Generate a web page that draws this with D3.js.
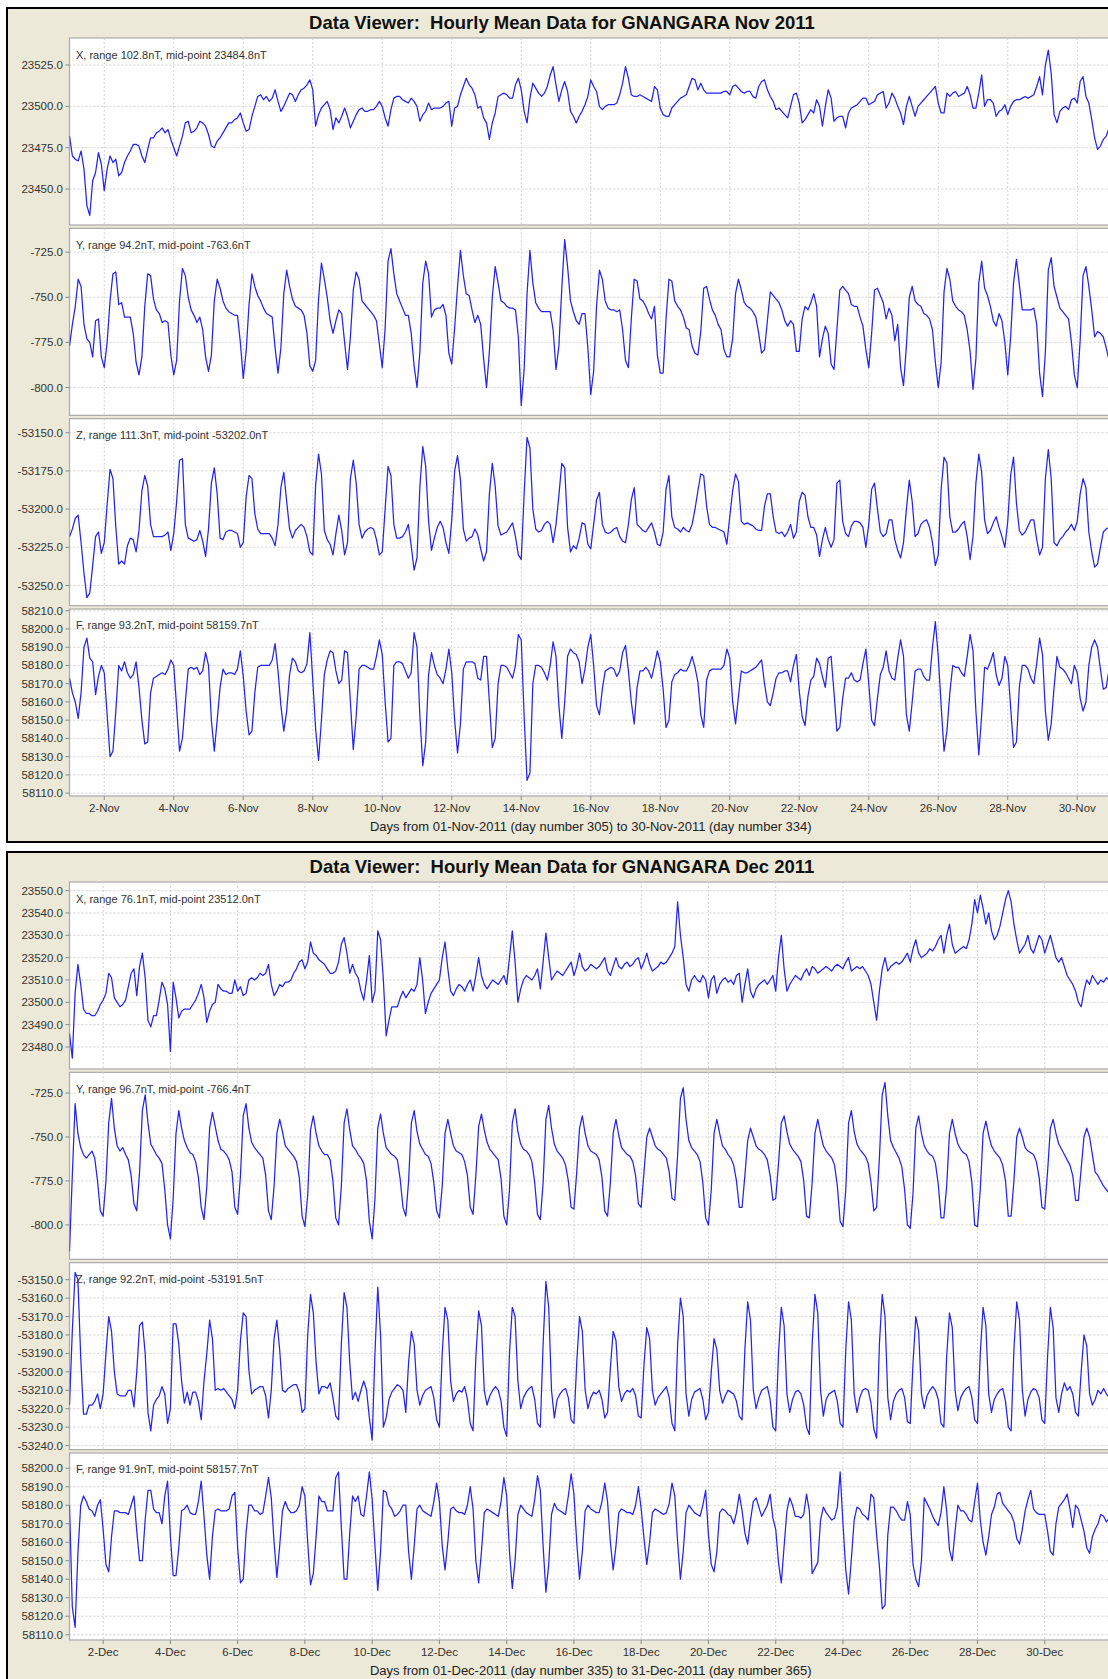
<!DOCTYPE html>
<html><head><meta charset="utf-8">
<script src="https://cdn.jsdelivr.net/npm/d3@7"></script>
<style>
body{margin:0;background:#fff;}
svg{display:block;font-family:Arial,"Liberation Sans",sans-serif;}
</style></head><body>
<svg id="chart" width="1108" height="1679"></svg>
<script>
// ---- data (2-hourly samples) ----
const SAMPLE_HOURS = 2;
const components = ["X","Y","Z","F"];
const novRange = [102.8, 94.2, 111.3, 93.2];
const novMid = [23484.8, -763.6, -53202.0, 58159.7];
const decRange = [76.1, 96.7, 92.2, 91.9];
const decMid = [23512.0, -766.4, -53191.5, 58157.7];
const novYTicks = [[23450,23475,23500,23525],[-800,-775,-750,-725],[-53250,-53225,-53200,-53175,-53150],[58110,58120,58130,58140,58150,58160,58170,58180,58190,58200,58210]];
const decYTicks = [[23480,23490,23500,23510,23520,23530,23540,23550],[-800,-775,-750,-725],[-53240,-53230,-53220,-53210,-53200,-53190,-53180,-53170,-53160,-53150],[58110,58120,58130,58140,58150,58160,58170,58180,58190,58200]];
const novXTickLabels = ["2-Nov","4-Nov","6-Nov","8-Nov","10-Nov","12-Nov","14-Nov","16-Nov","18-Nov","20-Nov","22-Nov","24-Nov","26-Nov","28-Nov","30-Nov"];
const decXTickLabels = ["2-Dec","4-Dec","6-Dec","8-Dec","10-Dec","12-Dec","14-Dec","16-Dec","18-Dec","20-Dec","22-Dec","24-Dec","26-Dec","28-Dec","30-Dec"];
const novTitle = "Data Viewer:  Hourly Mean Data for GNANGARA Nov 2011";
const decTitle = "Data Viewer:  Hourly Mean Data for GNANGARA Dec 2011";
const novAxisTitle = "Days from 01-Nov-2011 (day number 305) to 30-Nov-2011 (day number 334)";
const decAxisTitle = "Days from 01-Dec-2011 (day number 335) to 31-Dec-2011 (day number 365)";

const novX = [
23482,23470,23468,23467,23473,23462,23440,23434,23455,23460,23472,23465,
23449,23462,23470,23466,23468,23458,23460,23466,23470,23473,23477,23477,
23476,23470,23466,23474,23481,23481,23484,23485,23487,23484,23486,23480,
23475,23470,23476,23482,23490,23491,23484,23485,23487,23491,23490,23488,
23483,23476,23475,23479,23481,23484,23487,23490,23490,23492,23493,23496,
23490,23485,23486,23494,23500,23506,23507,23504,23506,23503,23505,23510,
23503,23497,23500,23504,23508,23507,23503,23507,23510,23511,23513,23516,
23510,23488,23495,23499,23501,23503,23498,23486,23493,23490,23494,23499,
23494,23487,23491,23495,23498,23499,23497,23497,23498,23498,23500,23503,
23500,23493,23488,23498,23505,23506,23506,23504,23503,23502,23505,23503,
23500,23491,23495,23497,23502,23498,23499,23499,23499,23500,23502,23503,
23488,23499,23500,23507,23512,23517,23513,23511,23507,23499,23500,23493,
23490,23480,23490,23496,23506,23507,23508,23507,23505,23505,23513,23517,
23510,23497,23490,23505,23514,23511,23508,23506,23508,23512,23519,23524,
23513,23503,23510,23515,23509,23497,23494,23490,23494,23497,23501,23506,
23516,23512,23509,23500,23498,23500,23501,23501,23501,23502,23507,23514,
23524,23517,23507,23506,23506,23507,23506,23505,23504,23503,23512,23510,
23499,23495,23494,23494,23499,23501,23503,23505,23506,23507,23512,23517,
23516,23510,23514,23510,23508,23508,23508,23508,23508,23508,23509,23509,
23507,23512,23513,23511,23509,23508,23509,23509,23506,23505,23512,23515,
23516,23510,23506,23503,23498,23499,23497,23495,23493,23500,23507,23508,
23502,23490,23492,23495,23498,23496,23504,23500,23488,23500,23510,23505,
23491,23493,23494,23494,23487,23496,23499,23500,23501,23503,23505,23505,
23501,23502,23503,23507,23508,23509,23499,23502,23508,23505,23500,23496,
23489,23500,23506,23500,23494,23500,23502,23504,23506,23508,23510,23512,
23502,23496,23496,23508,23506,23508,23509,23506,23507,23508,23512,23507,
23499,23499,23508,23519,23500,23504,23504,23502,23494,23497,23498,23501,
23495,23500,23503,23504,23504,23505,23506,23505,23506,23507,23512,23518,
23507,23525,23534,23520,23495,23490,23497,23499,23500,23498,23504,23505,
23502,23515,23518,23506,23502,23492,23481,23474,23476,23480,23482,23487];

const novY = [
-777,-765,-755,-740,-744,-765,-773,-775,-783,-763,-762,-783,
-789,-775,-752,-737,-736,-754,-753,-761,-761,-761,-770,-786,
-793,-783,-755,-737,-738,-751,-757,-759,-764,-763,-764,-782,
-793,-785,-752,-734,-738,-750,-757,-760,-764,-761,-768,-783,
-791,-782,-752,-740,-745,-752,-756,-758,-759,-760,-760,-775,
-795,-780,-754,-737,-744,-749,-752,-756,-759,-760,-761,-778,
-792,-778,-748,-735,-744,-751,-755,-756,-757,-760,-770,-788,
-791,-785,-751,-731,-740,-750,-763,-770,-763,-757,-759,-775,
-790,-772,-746,-736,-740,-752,-754,-756,-758,-760,-763,-776,
-789,-767,-730,-723,-737,-748,-752,-756,-760,-760,-770,-788,
-800,-780,-742,-730,-737,-761,-757,-756,-756,-754,-760,-781,
-787,-767,-744,-724,-738,-748,-749,-757,-764,-760,-765,-784,
-800,-780,-750,-733,-742,-752,-753,-755,-756,-756,-757,-772,
-810,-790,-748,-724,-742,-753,-756,-758,-758,-758,-758,-768,
-790,-777,-745,-718,-733,-752,-758,-763,-765,-759,-759,-778,
-804,-791,-755,-735,-740,-752,-756,-757,-757,-758,-757,-768,
-785,-789,-762,-740,-741,-751,-752,-755,-759,-762,-755,-782,
-792,-792,-762,-740,-741,-752,-755,-757,-761,-767,-768,-777,
-781,-782,-769,-745,-744,-751,-757,-760,-765,-768,-779,-783,
-783,-773,-748,-740,-746,-753,-755,-756,-758,-761,-770,-781,
-779,-763,-747,-749,-751,-753,-757,-763,-766,-763,-765,-780,
-780,-762,-755,-757,-753,-748,-755,-783,-773,-766,-770,-787,
-790,-768,-746,-744,-746,-748,-754,-755,-755,-761,-766,-779,
-789,-770,-746,-745,-749,-753,-762,-756,-760,-774,-765,-789,
-799,-777,-750,-744,-752,-754,-755,-759,-760,-762,-768,-786,
-800,-786,-747,-734,-740,-752,-755,-757,-758,-760,-768,-780,
-801,-784,-742,-730,-745,-749,-755,-763,-766,-759,-763,-775,
-793,-772,-742,-729,-743,-757,-757,-757,-757,-756,-765,-792,
-805,-780,-735,-728,-744,-750,-756,-758,-760,-762,-775,-793,
-800,-774,-738,-733,-744,-757,-772,-769,-770,-772,-778,-785];

const novZ = [
-53218,-53213,-53206,-53204,-53222,-53242,-53258,-53255,-53237,-53218,-53215,-53229,
-53222,-53197,-53174,-53180,-53212,-53236,-53234,-53236,-53224,-53219,-53220,-53228,
-53214,-53188,-53178,-53185,-53210,-53218,-53218,-53218,-53218,-53217,-53215,-53227,
-53216,-53195,-53168,-53167,-53210,-53219,-53220,-53221,-53220,-53214,-53221,-53231,
-53213,-53183,-53173,-53190,-53219,-53220,-53215,-53214,-53214,-53215,-53216,-53225,
-53222,-53192,-53178,-53180,-53203,-53213,-53216,-53216,-53216,-53216,-53219,-53224,
-53210,-53186,-53176,-53195,-53213,-53219,-53214,-53212,-53210,-53212,-53218,-53228,
-53230,-53184,-53164,-53177,-53214,-53220,-53223,-53230,-53216,-53204,-53214,-53230,
-53222,-53180,-53168,-53183,-53210,-53219,-53215,-53213,-53212,-53213,-53220,-53230,
-53228,-53200,-53172,-53178,-53210,-53219,-53219,-53218,-53215,-53210,-53224,-53240,
-53232,-53185,-53159,-53172,-53208,-53227,-53219,-53212,-53208,-53212,-53222,-53229,
-53207,-53175,-53165,-53181,-53213,-53221,-53219,-53218,-53213,-53217,-53226,-53234,
-53228,-53190,-53170,-53185,-53211,-53217,-53216,-53215,-53212,-53209,-53218,-53230,
-53233,-53190,-53153,-53160,-53200,-53213,-53215,-53214,-53210,-53208,-53210,-53222,
-53210,-53191,-53170,-53173,-53212,-53228,-53224,-53226,-53219,-53209,-53210,-53223,
-53226,-53210,-53194,-53189,-53210,-53215,-53216,-53215,-53213,-53212,-53218,-53221,
-53222,-53210,-53194,-53186,-53210,-53212,-53214,-53215,-53212,-53209,-53215,-53223,
-53224,-53215,-53187,-53178,-53205,-53212,-53213,-53215,-53212,-53214,-53215,-53210,
-53200,-53188,-53177,-53178,-53198,-53210,-53212,-53212,-53213,-53214,-53215,-53223,
-53205,-53188,-53177,-53182,-53208,-53210,-53209,-53210,-53211,-53213,-53214,-53214,
-53198,-53190,-53190,-53205,-53215,-53216,-53215,-53218,-53215,-53210,-53219,-53215,
-53195,-53189,-53191,-53205,-53212,-53212,-53217,-53231,-53220,-53212,-53220,-53225,
-53220,-53183,-53181,-53208,-53216,-53218,-53211,-53208,-53208,-53209,-53212,-53225,
-53210,-53187,-53183,-53200,-53215,-53218,-53216,-53207,-53207,-53220,-53227,-53232,
-53222,-53200,-53181,-53195,-53218,-53216,-53210,-53208,-53207,-53212,-53222,-53237,
-53230,-53187,-53166,-53170,-53205,-53215,-53215,-53213,-53210,-53208,-53218,-53233,
-53218,-53183,-53164,-53176,-53207,-53216,-53214,-53209,-53205,-53212,-53218,-53225,
-53208,-53178,-53166,-53196,-53214,-53217,-53215,-53211,-53207,-53207,-53220,-53230,
-53225,-53180,-53161,-53180,-53222,-53224,-53220,-53218,-53215,-53213,-53210,-53214,
-53208,-53190,-53180,-53186,-53215,-53228,-53238,-53236,-53225,-53215,-53213,-53212];

const novF = [
58173,58165,58160,58151,58165,58190,58195,58184,58182,58164,58174,58180,
58176,58153,58130,58133,58155,58180,58177,58182,58176,58173,58175,58182,
58168,58150,58137,58138,58165,58173,58174,58175,58176,58175,58178,58183,
58180,58157,58133,58140,58160,58178,58179,58178,58179,58175,58177,58187,
58180,58150,58133,58150,58168,58178,58175,58176,58176,58175,58178,58188,
58174,58155,58142,58144,58165,58179,58180,58180,58180,58180,58183,58192,
58177,58158,58144,58155,58175,58184,58182,58177,58176,58177,58181,58198,
58172,58145,58128,58150,58175,58183,58188,58187,58177,58170,58172,58188,
58187,58160,58134,58152,58178,58180,58180,58179,58178,58178,58185,58194,
58186,58160,58138,58140,58180,58182,58182,58181,58177,58173,58176,58198,
58190,58152,58125,58138,58175,58187,58180,58175,58173,58170,58178,58189,
58176,58150,58132,58148,58178,58182,58182,58182,58181,58173,58172,58185,
58185,58160,58135,58140,58170,58180,58180,58179,58176,58173,58180,58197,
58194,58152,58117,58121,58170,58180,58180,58179,58176,58172,58180,58193,
58185,58158,58140,58160,58185,58189,58187,58186,58182,58170,58178,58190,
58197,58180,58158,58153,58167,58177,58178,58179,58178,58174,58177,58187,
58191,58177,58160,58148,58168,58177,58177,58179,58177,58173,58180,58188,
58182,58167,58146,58150,58171,58175,58176,58178,58177,58177,58180,58185,
58179,58171,58153,58146,58172,58177,58178,58178,58178,58178,58180,58189,
58184,58160,58148,58163,58177,58176,58176,58177,58178,58179,58181,58183,
58170,58160,58158,58165,58173,58176,58176,58177,58177,58171,58180,58186,
58166,58152,58147,58163,58172,58174,58184,58181,58174,58168,58184,58185,
58165,58144,58146,58162,58173,58173,58176,58172,58171,58172,58181,58189,
58170,58150,58147,58162,58175,58179,58188,58177,58173,58172,58184,58194,
58185,58153,58144,58160,58177,58178,58178,58174,58172,58172,58190,58204,
58185,58158,58133,58144,58165,58180,58179,58179,58176,58174,58185,58197,
58188,58155,58131,58153,58179,58178,58182,58187,58175,58169,58173,58185,
58180,58157,58135,58138,58168,58180,58180,58178,58173,58170,58181,58195,
58186,58155,58139,58148,58168,58185,58179,58178,58176,58173,58170,58180,
58176,58162,58155,58160,58180,58190,58194,58190,58178,58167,58168,58178];

const decX = [
23486,23475,23504,23517,23508,23497,23495,23495,23494,23494,23496,23499,
23501,23504,23513,23511,23502,23500,23498,23499,23501,23507,23513,23515,
23503,23516,23522,23511,23492,23489,23494,23494,23501,23509,23506,23499,
23478,23509,23502,23493,23496,23497,23497,23497,23499,23501,23504,23508,
23502,23491,23496,23499,23500,23508,23506,23505,23505,23504,23504,23510,
23505,23507,23503,23504,23510,23511,23510,23511,23513,23512,23513,23517,
23508,23503,23505,23508,23507,23509,23509,23510,23513,23515,23518,23519,
23515,23518,23527,23522,23521,23519,23518,23517,23515,23513,23513,23514,
23518,23526,23529,23522,23513,23517,23513,23511,23505,23501,23510,23521,
23500,23505,23532,23528,23510,23485,23492,23498,23498,23498,23502,23505,
23502,23504,23506,23505,23508,23520,23510,23495,23500,23504,23506,23508,
23510,23520,23527,23515,23505,23503,23506,23508,23507,23505,23508,23510,
23505,23512,23520,23512,23508,23506,23508,23510,23509,23508,23510,23512,
23508,23520,23532,23518,23500,23506,23510,23512,23511,23510,23512,23515,
23506,23518,23531,23520,23510,23512,23514,23513,23512,23514,23516,23518,
23512,23516,23522,23516,23514,23515,23517,23516,23515,23516,23518,23520,
23514,23512,23516,23520,23516,23515,23517,23518,23516,23517,23519,23520,
23515,23518,23522,23517,23514,23515,23516,23518,23517,23518,23520,23522,
23525,23545,23530,23520,23508,23505,23510,23512,23510,23509,23512,23510,
23502,23510,23512,23504,23508,23510,23511,23509,23510,23508,23512,23513,
23500,23508,23515,23505,23502,23506,23508,23509,23510,23508,23510,23512,
23505,23520,23530,23515,23505,23508,23510,23512,23511,23510,23513,23515,
23512,23516,23515,23513,23514,23515,23516,23515,23514,23516,23517,23516,
23515,23518,23520,23514,23515,23516,23515,23516,23514,23512,23508,23500,
23492,23505,23515,23520,23514,23516,23517,23518,23517,23518,23520,23522,
23518,23524,23528,23522,23520,23521,23522,23524,23523,23525,23528,23530,
23522,23530,23535,23526,23522,23523,23524,23525,23524,23528,23535,23546,
23540,23548,23542,23535,23540,23532,23528,23530,23534,23540,23546,23550,
23545,23535,23528,23522,23524,23526,23530,23524,23522,23526,23530,23528,
23522,23526,23530,23525,23520,23518,23520,23516,23512,23510,23508,23505,
23500,23498,23505,23510,23508,23512,23510,23508,23510,23509,23511,23510];

const decY = [
-815,-772,-731,-748,-756,-760,-762,-760,-758,-762,-775,-792,
-795,-775,-742,-728,-745,-755,-758,-756,-760,-763,-772,-788,
-792,-770,-735,-726,-742,-754,-757,-760,-762,-765,-780,-800,
-808,-785,-748,-735,-745,-752,-756,-759,-760,-764,-773,-790,
-797,-778,-745,-736,-744,-752,-757,-758,-760,-763,-770,-790,
-794,-772,-738,-731,-745,-753,-756,-758,-760,-762,-772,-792,
-797,-778,-748,-740,-747,-755,-757,-759,-761,-764,-773,-795,
-801,-783,-746,-738,-748,-755,-758,-760,-760,-763,-775,-796,
-800,-778,-742,-734,-746,-755,-757,-760,-762,-765,-775,-798,
-808,-785,-745,-737,-748,-756,-758,-760,-761,-763,-774,-790,
-795,-775,-742,-735,-747,-754,-757,-760,-761,-765,-776,-792,
-796,-778,-748,-740,-748,-755,-758,-759,-760,-764,-772,-790,
-794,-772,-744,-737,-746,-753,-757,-759,-761,-763,-774,-795,
-800,-780,-742,-734,-747,-754,-757,-758,-760,-764,-776,-794,
-797,-776,-740,-732,-745,-754,-758,-760,-762,-766,-775,-790,
-791,-770,-745,-738,-748,-755,-758,-759,-760,-763,-773,-792,
-795,-776,-748,-740,-749,-756,-758,-760,-761,-764,-772,-788,
-790,-770,-750,-745,-750,-755,-757,-758,-760,-762,-770,-785,
-786,-760,-728,-722,-740,-752,-756,-758,-760,-764,-776,-796,
-800,-780,-748,-740,-748,-755,-757,-760,-762,-766,-775,-790,
-790,-772,-752,-745,-750,-755,-757,-758,-760,-763,-772,-786,
-785,-765,-742,-738,-747,-754,-757,-759,-761,-764,-775,-795,
-796,-776,-748,-740,-748,-755,-758,-760,-762,-766,-778,-798,
-801,-780,-742,-735,-747,-754,-757,-759,-761,-765,-776,-792,
-790,-762,-726,-719,-738,-752,-756,-759,-762,-767,-780,-800,
-802,-782,-745,-738,-748,-755,-758,-760,-761,-765,-777,-796,
-796,-778,-748,-740,-748,-754,-757,-759,-760,-764,-776,-800,
-801,-780,-748,-741,-749,-755,-758,-760,-762,-766,-775,-795,
-795,-775,-750,-745,-750,-756,-758,-759,-760,-764,-773,-790,
-791,-770,-745,-740,-748,-754,-757,-760,-763,-766,-772,-786,
-786,-768,-750,-745,-750,-760,-770,-772,-775,-778,-780,-782];

const decZ = [
-53218,-53178,-53146,-53150,-53192,-53223,-53223,-53218,-53218,-53216,-53212,-53220,
-53212,-53190,-53170,-53178,-53200,-53212,-53213,-53213,-53213,-53210,-53210,-53219,
-53200,-53175,-53173,-53190,-53222,-53232,-53218,-53215,-53213,-53208,-53212,-53228,
-53220,-53174,-53174,-53185,-53205,-53217,-53211,-53218,-53211,-53211,-53216,-53226,
-53205,-53190,-53172,-53182,-53210,-53209,-53210,-53209,-53211,-53213,-53215,-53220,
-53210,-53183,-53168,-53170,-53199,-53212,-53210,-53209,-53208,-53208,-53213,-53225,
-53210,-53182,-53172,-53188,-53210,-53211,-53209,-53208,-53207,-53207,-53211,-53222,
-53220,-53180,-53158,-53168,-53195,-53212,-53208,-53208,-53209,-53206,-53214,-53224,
-53226,-53185,-53157,-53165,-53195,-53215,-53211,-53216,-53210,-53205,-53210,-53225,
-53237,-53190,-53154,-53180,-53230,-53225,-53215,-53211,-53209,-53207,-53208,-53210,
-53222,-53195,-53178,-53185,-53210,-53218,-53213,-53210,-53209,-53208,-53214,-53226,
-53230,-53190,-53165,-53172,-53205,-53216,-53212,-53210,-53211,-53208,-53215,-53228,
-53232,-53192,-53167,-53175,-53210,-53218,-53213,-53210,-53208,-53210,-53216,-53230,
-53235,-53190,-53165,-53170,-53205,-53220,-53214,-53211,-53209,-53208,-53215,-53228,
-53230,-53185,-53151,-53165,-53210,-53225,-53215,-53212,-53210,-53209,-53214,-53226,
-53228,-53195,-53170,-53178,-53210,-53220,-53214,-53211,-53212,-53210,-53215,-53225,
-53222,-53198,-53178,-53183,-53208,-53216,-53212,-53210,-53211,-53209,-53213,-53224,
-53225,-53196,-53176,-53182,-53210,-53218,-53214,-53212,-53210,-53208,-53214,-53228,
-53232,-53185,-53160,-53170,-53212,-53224,-53215,-53211,-53210,-53209,-53215,-53226,
-53222,-53200,-53182,-53188,-53210,-53217,-53213,-53210,-53211,-53212,-53216,-53224,
-53226,-53188,-53162,-53172,-53210,-53220,-53214,-53210,-53209,-53208,-53215,-53230,
-53232,-53190,-53165,-53175,-53212,-53222,-53215,-53211,-53210,-53212,-53218,-53230,
-53234,-53185,-53158,-53168,-53210,-53224,-53215,-53212,-53211,-53210,-53216,-53228,
-53230,-53188,-53162,-53172,-53212,-53222,-53214,-53210,-53209,-53210,-53217,-53231,
-53236,-53185,-53158,-53170,-53214,-53226,-53216,-53212,-53210,-53209,-53214,-53227,
-53228,-53195,-53170,-53178,-53212,-53220,-53213,-53210,-53208,-53210,-53215,-53228,
-53230,-53192,-53168,-53176,-53210,-53221,-53214,-53211,-53209,-53208,-53214,-53226,
-53228,-53190,-53165,-53175,-53212,-53222,-53215,-53212,-53210,-53209,-53216,-53230,
-53232,-53188,-53162,-53172,-53210,-53224,-53215,-53211,-53209,-53210,-53214,-53226,
-53228,-53192,-53165,-53176,-53214,-53222,-53212,-53206,-53210,-53208,-53212,-53222,
-53224,-53200,-53180,-53186,-53212,-53218,-53215,-53210,-53212,-53209,-53212,-53214];

const decF = [
58180,58125,58114,58154,58180,58185,58182,58178,58177,58174,58180,58183,
58167,58148,58144,58163,58177,58177,58176,58176,58176,58175,58180,58185,
58166,58150,58150,58172,58188,58188,58178,58176,58176,58170,58185,58193,
58163,58142,58142,58157,58177,58178,58180,58176,58175,58175,58182,58193,
58174,58153,58140,58163,58177,58178,58177,58177,58177,58178,58185,58187,
58157,58138,58140,58165,58180,58180,58177,58177,58175,58176,58185,58195,
58184,58160,58141,58158,58177,58182,58178,58176,58176,58177,58180,58190,
58185,58160,58137,58143,58163,58185,58182,58182,58177,58177,58177,58195,
58198,58168,58140,58140,58165,58185,58182,58185,58175,58174,58185,58198,
58183,58158,58134,58155,58188,58187,58180,58178,58174,58175,58177,58180,
58180,58155,58140,58158,58178,58180,58177,58176,58175,58174,58182,58192,
58182,58158,58145,58160,58178,58179,58177,58176,58176,58175,58180,58190,
58178,58150,58138,58155,58176,58178,58177,58176,58175,58174,58182,58195,
58185,58155,58135,58150,58175,58180,58178,58176,58175,58174,58183,58196,
58188,58158,58133,58148,58175,58181,58178,58177,58176,58175,58185,58197,
58186,58160,58140,58155,58177,58180,58178,58177,58176,58176,58182,58192,
58182,58160,58145,58158,58176,58178,58177,58176,58176,58175,58180,58190,
58178,58162,58148,58160,58176,58178,58177,58176,58175,58176,58181,58192,
58185,58160,58140,58155,58176,58180,58178,58176,58175,58174,58180,58188,
58164,58148,58144,58155,58176,58178,58177,58175,58174,58170,58176,58186,
58177,58165,58159,58172,58182,58184,58179,58174,58177,58180,58186,58173,
58167,58149,58138,58158,58177,58184,58180,58174,58174,58173,58175,58186,
58177,58143,58146,58149,58172,58179,58176,58174,58172,58173,58179,58198,
58170,58145,58132,58151,58172,58179,58178,58175,58174,58172,58186,58184,
58164,58147,58124,58126,58164,58179,58179,58177,58174,58172,58172,58182,
58175,58148,58140,58136,58150,58184,58181,58178,58174,58171,58169,58176,
58190,58177,58156,58150,58166,58180,58177,58177,58175,58172,58171,58182,
58192,58172,58160,58153,58163,58175,58179,58186,58187,58181,58179,58177,
58175,58171,58162,58159,58167,58177,58183,58188,58178,58176,58175,58175,
58175,58166,58155,58153,58170,58179,58181,58183,58186,58178,58168,58180,
58178,58172,58166,58157,58154,58163,58167,58170,58175,58174,58171,58173];

// ---- drawing ----
const svg = d3.select("#chart");
const PLOT_LEFT = 69.5, PLOT_RIGHT = 1112;
const SUB_H = 187, SUB_STEP = 190.33;
const locale = d3.formatLocale({decimal: ".", thousands: ",", grouping: [3], currency: ["", ""], minus: "-"});
const fmt = locale.format(".1f");

const panels = [
  {top: 8, days: 30, series: [novX, novY, novZ, novF], range: novRange, mid: novMid,
   yTicks: novYTicks, xLabels: novXTickLabels, title: novTitle, axisTitle: novAxisTitle},
  {top: 852, days: 31, series: [decX, decY, decZ, decF], range: decRange, mid: decMid,
   yTicks: decYTicks, xLabels: decXTickLabels, title: decTitle, axisTitle: decAxisTitle}
];

const defs = svg.append("defs");

panels.forEach((p, pi) => {
  const g = svg.append("g");
  g.append("rect").attr("x", 7).attr("y", p.top).attr("width", 1120).attr("height", 834)
    .attr("fill", "#ece9d8").attr("stroke", "#000").attr("stroke-width", 2);
  g.append("text").attr("x", 562).attr("y", p.top + 20.5).attr("text-anchor", "middle")
    .style("white-space", "pre").attr("font-size", "18.5px").attr("font-weight", "bold")
    .attr("fill", "#111").text(p.title);

  const x = d3.scaleLinear().domain([0, p.days]).range([PLOT_LEFT, PLOT_RIGHT]);
  const tickDays = p.xLabels.map(l => parseInt(l, 10) - 1);
  let lastBottom = 0;

  p.series.forEach((vals, si) => {
    const top = p.top + 30 + si * SUB_STEP;
    const bottom = top + SUB_H;
    lastBottom = bottom;
    const half = p.range[si] * 0.55;
    const y = d3.scaleLinear().domain([p.mid[si] - half, p.mid[si] + half]).range([bottom, top]);

    g.append("rect").attr("x", PLOT_LEFT).attr("y", top).attr("width", 1120 - PLOT_LEFT).attr("height", SUB_H)
      .attr("fill", "#fff").attr("stroke", "#a9a9a9").attr("stroke-width", 1.2);

    // grid
    g.append("g").selectAll("line").data(p.yTicks[si]).join("line")
      .attr("x1", PLOT_LEFT).attr("x2", 1120).attr("y1", d => y(d)).attr("y2", d => y(d))
      .attr("stroke", "#d2d2d2").attr("stroke-width", 1).attr("stroke-dasharray", "2,2");
    g.append("g").selectAll("line").data(tickDays).join("line")
      .attr("x1", d => x(d)).attr("x2", d => x(d)).attr("y1", top).attr("y2", bottom)
      .attr("stroke", "#d2d2d2").attr("stroke-width", 1).attr("stroke-dasharray", "2,2");

    // y axis ticks + labels
    const ya = g.append("g");
    ya.selectAll("line").data(p.yTicks[si]).join("line")
      .attr("x1", PLOT_LEFT - 4).attr("x2", PLOT_LEFT).attr("y1", d => y(d)).attr("y2", d => y(d))
      .attr("stroke", "#888");
    ya.selectAll("text").data(p.yTicks[si]).join("text")
      .attr("x", 63).attr("y", d => y(d)).attr("dy", "0.35em").attr("text-anchor", "end")
      .attr("font-size", "11.5px").attr("fill", "#333").text(d => fmt(d));

    // series line
    const cid = "clip" + pi + "_" + si;
    defs.append("clipPath").attr("id", cid).append("rect")
      .attr("x", PLOT_LEFT).attr("y", top).attr("width", 1120 - PLOT_LEFT).attr("height", SUB_H);
    const line = d3.line().x((d, i) => x(i * SAMPLE_HOURS / 24)).y(d => y(d));
    g.append("path").datum(vals).attr("clip-path", "url(#" + cid + ")")
      .attr("fill", "none").attr("stroke", "#2323f2").attr("stroke-width", 1.25)
      .attr("stroke-linejoin", "round").attr("d", line);

    // subplot label
    g.append("text").attr("x", 76).attr("y", top + 20.5).attr("font-size", "11px").attr("fill", "#333")
      .text(components[si] + ", range " + fmt(p.range[si]) + "nT, mid-point " + fmt(p.mid[si]) + "nT");
  });

  // x axis
  const xa = g.append("g");
  xa.selectAll("line").data(tickDays).join("line")
    .attr("x1", d => x(d)).attr("x2", d => x(d)).attr("y1", lastBottom).attr("y2", lastBottom + 4)
    .attr("stroke", "#888");
  xa.selectAll("text").data(p.xLabels).join("text")
    .attr("x", (d, i) => x(tickDays[i])).attr("y", lastBottom + 16).attr("text-anchor", "middle")
    .attr("font-size", "11.5px").attr("fill", "#333").text(d => d);
  g.append("text").attr("x", (PLOT_LEFT + PLOT_RIGHT) / 2).attr("y", lastBottom + 35)
    .attr("text-anchor", "middle").attr("font-size", "13px").attr("fill", "#222").text(p.axisTitle);
});
</script>
</body></html>
